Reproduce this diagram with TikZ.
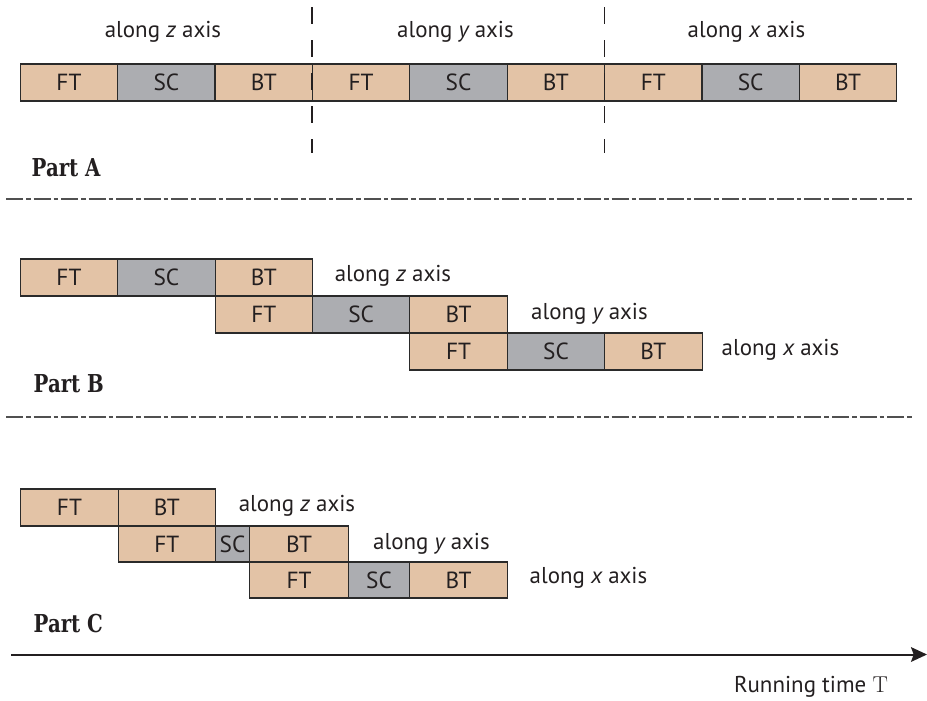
\documentclass[tikz,border=0pt]{standalone}
\usepackage{fontspec}
\usetikzlibrary{arrows.meta}
\newfontfamily\labfont{PT Sans}
\newfontfamily\partfont{DejaVu Serif}
\definecolor{tan}{HTML}{E3C3A6}
\definecolor{scgray}{HTML}{ACADB1}
\definecolor{edge}{HTML}{2A2A2A}
\definecolor{sepcol}{HTML}{505050}
\definecolor{ink}{HTML}{231F20}
\begin{document}
\begin{tikzpicture}[x=0.75pt,y=-0.75pt,
  blk/.style={draw=edge,line width=0.85pt,inner sep=0pt,outer sep=0pt,anchor=north west,
    font=\labfont\fontsize{17.5}{18}\selectfont,text=ink},
  ft/.style={blk,fill=tan},
  sc/.style={blk,fill=scgray},
  axl/.style={anchor=base,font=\labfont\fontsize{17.2}{18}\selectfont,text=ink},
  partl/.style={anchor=base west,font=\partfont\bfseries\fontsize{18.5}{20}\selectfont,text=ink},
  sepline/.style={draw=sepcol,line width=1.5pt,dash pattern=on 12.75pt off 2.25pt on 3.4pt off 2.25pt},
  vdash/.style={draw=ink,line width=0.85pt,dash pattern=on 12.4pt off 12.4pt}]
\useasboundingbox (0,0) rectangle (927,700);
% ---------------- Part A ----------------
\foreach \i/\t/\s in {0/FT/ft,1/SC/sc,2/BT/ft,3/FT/ft,4/SC/sc,5/BT/ft,6/FT/ft,7/SC/sc,8/BT/ft}{
  \node[\s,minimum width=73.05pt,minimum height=27.75pt] (a\i) at ({20.3+97.38*\i},64) {\t};
}
\coordinate (v1t) at (312,7); \coordinate (v1b) at (312,153);
\coordinate (v2t) at (604.6,7); \coordinate (v2b) at (604.6,153);
\draw[vdash] (v1t) -- (v1b);
\draw[vdash] (v2t) -- (v2b);
\node[axl] (az) at (163,37) {along {\itshape z} axis};
\node[axl] (ay) at (455.5,37) {along {\itshape y} axis};
\node[axl] (ax) at (746.5,37) {along {\itshape x} axis};
\node[partl] (pA) at (27,176) {\scalebox{0.8}[1]{Part A}};
\coordinate (s1a) at (6,199); \coordinate (s1b) at (914,199);
\draw[sepline] (s1a) -- (s1b);
% ---------------- Part B ----------------
\node[ft,minimum width=73.05pt,minimum height=27.75pt] (b1) at (20.3,259) {FT};
\node[sc,minimum width=73.05pt,minimum height=27.75pt] (b2) at (117.7,259) {SC};
\node[ft,minimum width=73.05pt,minimum height=27.75pt] (b3) at (215.1,259) {BT};
\node[ft,minimum width=73.05pt,minimum height=27.75pt] (b4) at (215.1,296) {FT};
\node[sc,minimum width=73.05pt,minimum height=27.75pt] (b5) at (312.5,296) {SC};
\node[ft,minimum width=73.05pt,minimum height=27.75pt] (b6) at (409.9,296) {BT};
\node[ft,minimum width=73.05pt,minimum height=27.75pt] (b7) at (409.9,333) {FT};
\node[sc,minimum width=73.05pt,minimum height=27.75pt] (b8) at (507.3,333) {SC};
\node[ft,minimum width=73.05pt,minimum height=27.75pt] (b9) at (604.7,333) {BT};
\node[axl] (bz) at (393,281.5) {along {\itshape z} axis};
\node[axl] (by) at (589.5,319) {along {\itshape y} axis};
\node[axl] (bx) at (780.5,355.5) {along {\itshape x} axis};
\node[partl] (pB) at (29,392) {\scalebox{0.8}[1]{Part B}};
\coordinate (s2a) at (6,417); \coordinate (s2b) at (914,417);
\draw[sepline] (s2a) -- (s2b);
% ---------------- Part C ----------------
\node[ft,minimum width=73.05pt,minimum height=27.75pt] (c1) at (20.8,489) {FT};
\node[ft,minimum width=73.05pt,minimum height=27.75pt] (c2) at (118.2,489) {BT};
\node[ft,minimum width=73.05pt,minimum height=27pt] (c3) at (118.2,526) {FT};
\node[sc,minimum width=25.5pt,minimum height=27pt] (c4) at (215.6,526) {SC};
\node[ft,minimum width=74.25pt,minimum height=27pt] (c5) at (249.6,526) {BT};
\node[ft,minimum width=74.25pt,minimum height=27pt] (c6) at (249.6,562) {FT};
\node[sc,minimum width=45.75pt,minimum height=27pt] (c7) at (348.6,562) {SC};
\node[ft,minimum width=73.5pt,minimum height=27pt] (c8) at (409.6,562) {BT};
\node[axl] (cz) at (297,511.5) {along {\itshape z} axis};
\node[axl] (cy) at (431.5,549) {along {\itshape y} axis};
\node[axl] (cx) at (588.5,583) {along {\itshape x} axis};
\node[partl] (pC) at (29,632.5) {\scalebox{0.8}[1]{Part C}};
% ---------------- time axis ----------------
\coordinate (t0) at (11,654.5); \coordinate (t1) at (927,654.5);
\draw[draw=ink,line width=1.5pt,-{Stealth[length=12pt,width=11pt,inset=2pt]}] (t0) -- (t1);
\node[axl] (rt) at (811,692) {Running time {\rmfamily T}};
\end{tikzpicture}
\end{document}
